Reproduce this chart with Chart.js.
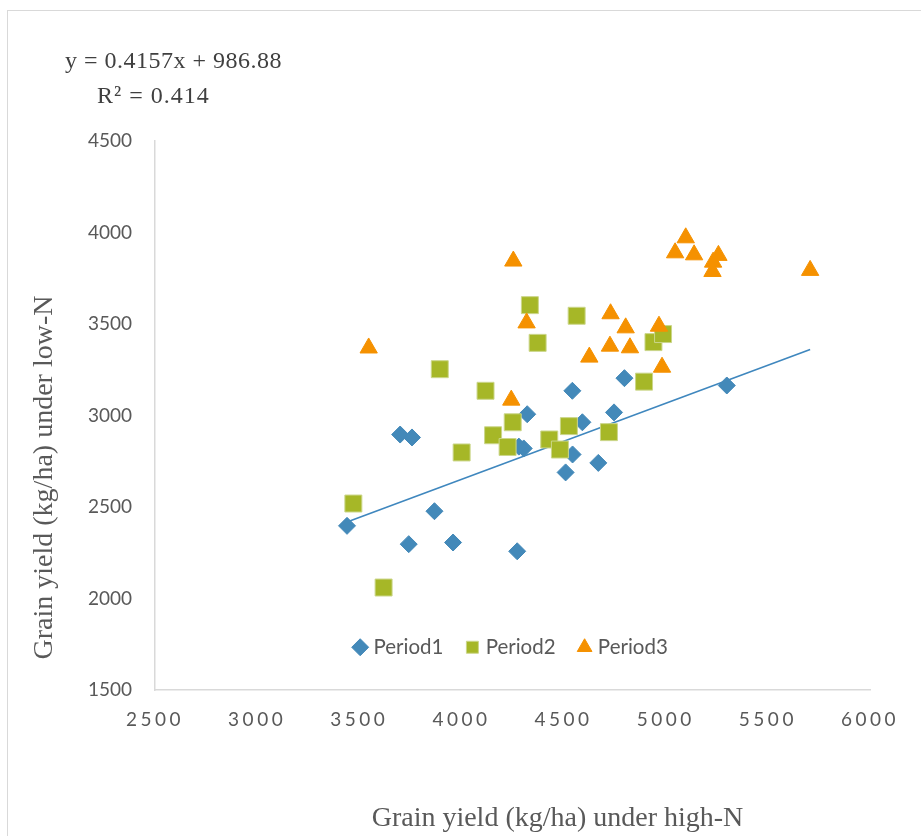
<!DOCTYPE html>
<html>
<head>
<meta charset="utf-8">
<script src="https://cdn.jsdelivr.net/npm/chart.js@4.4.0/dist/chart.umd.min.js"></script>
<style>
html, body { margin: 0; padding: 0; background: #ffffff; }
#wrap { width: 921px; height: 836px; position: relative; }
canvas { display: block; }
</style>
</head>
<body>
<div id="wrap"><canvas id="c" width="921" height="836"></canvas></div>
<script>
// ---- data ----
const seriesNames = ['Period1', 'Period2', 'Period3'];

const period1X = [3440, 3700, 3758, 3868, 3742, 3959, 4273, 4322, 4305, 4281, 4543, 4592, 4544, 4510, 4670, 4747, 4798, 5299];
const period1Y = [2397, 2896, 2880, 2477, 2297, 2306, 2258, 3007, 2820, 2830, 3135, 2963, 2787, 2689, 2741, 3017, 3204, 3164];

const period2X = [4335, 4564, 4373, 3894, 4118, 4251, 4526, 4155, 4001, 4226, 4430, 4482, 3471, 3619, 4722, 4894, 4940, 4987];
const period2Y = [3603, 3545, 3397, 3253, 3135, 2963, 2942, 2892, 2798, 2828, 2869, 2814, 2519, 2060, 2909, 3185, 3401, 3445];

const period3X = [4254, 4319, 3546, 4626, 4244, 5098, 5046, 5139, 5258, 5232, 5229, 5707, 4730, 4804, 4967, 4727, 4825, 4982];
const period3Y = [3844, 3506, 3369, 3319, 3084, 3971, 3889, 3878, 3875, 3838, 3787, 3793, 3556, 3479, 3488, 3379, 3370, 3264];

// linear trendline end points
const trendX = [3440, 5707];
const trendY = [2418, 3360];

const xTicks = [2500, 3000, 3500, 4000, 4500, 5000, 5500, 6000];
const yTicks = [1500, 2000, 2500, 3000, 3500, 4000, 4500];

const equationLines = ['y = 0.4157x + 986.88', 'R\u00B2 = 0.414'];
const xTitle = 'Grain yield (kg/ha) under high-N';
const yTitle = 'Grain yield (kg/ha) under low-N';

// ---- helpers ----
function pairs(xs, ys) { return xs.map((x, i) => ({ x: x, y: ys[i] })); }

const TICK_FONT = { family: 'Lato, "Open Sans", sans-serif', size: 19 };
const TITLE_FONT = { family: '"Liberation Serif", "DejaVu Serif", serif', size: 28 };
const GREY = '#595959';
const LEGEND_BOX_H = 60;

const layoutPlugin = {
  id: 'excelLayout',
  beforeDraw(chart) {
    const ctx = chart.ctx;
    ctx.save();
    ctx.fillStyle = '#ffffff';
    ctx.fillRect(0, 0, chart.width, chart.height);
    ctx.strokeStyle = '#d9d9d9';
    ctx.lineWidth = 1;
    ctx.strokeRect(7.5, 10.5, chart.width + 10, chart.height + 10);
    ctx.restore();
  },
  beforeLayout(chart) {
    const lg = chart.legend;
    if (lg && !lg._fixedFit) {
      const f = lg.fit;
      lg.fit = function () { f.call(this); if (this.isHorizontal()) this.height = LEGEND_BOX_H; };
      lg._fixedFit = true;
    }
  },
  afterLayout(chart) {
    const lg = chart.legend;
    const ca = chart.chartArea;
    if (lg) {
      const h = lg.height;
      lg.left = ca.left; lg.right = ca.right; lg.width = ca.right - ca.left;
      lg.top = 611; lg.bottom = lg.top + h;
    }
    const xs = chart.scales.x, ys = chart.scales.y;
    if (xs && !xs._wrapped) {
      const dl = xs.drawLabels;
      xs.drawLabels = function (a) { this.ctx.save(); this.ctx.letterSpacing = '3.5px'; dl.call(this, a); this.ctx.restore(); };
      const dt = xs.drawTitle;
      xs.drawTitle = function () { this.ctx.save(); this.ctx.translate(45, 0); dt.call(this); this.ctx.restore(); };
      xs._wrapped = true;
    }
    if (ys && !ys._wrapped) {
      const dt = ys.drawTitle;
      ys.drawTitle = function () { this.ctx.save(); this.ctx.translate(0, 62); dt.call(this); this.ctx.restore(); };
      ys._wrapped = true;
    }
  },
  afterDraw(chart) {
    const ctx = chart.ctx;
    ctx.save();
    ctx.font = '24px "Liberation Serif", serif';
    ctx.fillStyle = '#404040';
    ctx.textBaseline = 'middle';
    ctx.textAlign = 'left';
    ctx.letterSpacing = '0.5px';
    ctx.fillText(equationLines[0], 65, 62);
    ctx.letterSpacing = '1px';
    ctx.fillText(equationLines[1], 97, 97);
    ctx.restore();
  }
};

const ctx = document.getElementById('c').getContext('2d');
new Chart(ctx, {
  type: 'scatter',
  data: {
    datasets: [
      {
        label: seriesNames[0], data: pairs(period1X, period1Y), order: 3,
        pointStyle: 'rectRot', pointRadius: 8.5, pointHoverRadius: 8.5,
        backgroundColor: '#4389b9', borderColor: '#4389b9', borderWidth: 1
      },
      {
        label: seriesNames[1], data: pairs(period2X, period2Y), order: 2,
        pointStyle: 'rect', pointRadius: 12, pointHoverRadius: 12,
        backgroundColor: '#a6b727', borderColor: '#cbd68a', borderWidth: 1
      },
      {
        label: seriesNames[2], data: pairs(period3X, period3Y), order: 1,
        pointStyle: 'triangle', pointRadius: 10, pointHoverRadius: 10,
        backgroundColor: '#f59100', borderColor: '#f59100', borderWidth: 1
      },
      {
        type: 'line', label: 'Linear (all)', data: pairs(trendX, trendY), order: 4,
        showLine: true, fill: false, pointRadius: 0, pointHoverRadius: 0,
        borderColor: '#3f87be', borderWidth: 1.6, tension: 0
      }
    ]
  },
  options: {
    responsive: false,
    animation: false,
    devicePixelRatio: 1,
    layout: { padding: { left: 10, right: 51, top: 141 - LEGEND_BOX_H, bottom: 0 } },
    plugins: {
      tooltip: { enabled: false },
      legend: {
        display: true,
        position: 'top',
        align: 'center',
        labels: {
          usePointStyle: true,
          boxWidth: 6,
          boxHeight: 12,
          padding: 26,
          color: GREY,
          font: { family: 'Lato, "Open Sans", sans-serif', size: 20.5 },
          filter: (item) => item.datasetIndex < 3,
          sort: (a, b) => a.datasetIndex - b.datasetIndex
        }
      }
    },
    scales: {
      x: {
        type: 'linear',
        min: xTicks[0], max: xTicks[xTicks.length - 1],
        afterBuildTicks: (s) => { s.ticks = xTicks.map(v => ({ value: v })); },
        afterFit: (s) => { s.height = 146; },
        grid: { display: false, drawTicks: false },
        border: { display: true, color: '#d9d9d9', width: 1.5 },
        ticks: { color: GREY, font: TICK_FONT, padding: 18, maxRotation: 0, autoSkip: false,
                 callback: (v) => String(v) },
        title: { display: true, text: xTitle, color: GREY, font: TITLE_FONT, padding: { top: 0, bottom: 1 } }
      },
      y: {
        type: 'linear',
        min: yTicks[0], max: yTicks[yTicks.length - 1],
        afterBuildTicks: (s) => { s.ticks = yTicks.map(v => ({ value: v })); },
        afterFit: (s) => { s.width = 145; },
        grid: { display: false, drawTicks: false },
        border: { display: true, color: '#d9d9d9', width: 1.5 },
        ticks: { color: GREY, font: TICK_FONT, padding: 23, autoSkip: false,
                 callback: (v) => String(v) },
        title: { display: true, text: yTitle, color: GREY, font: TITLE_FONT, padding: { top: 18, bottom: 0 } }
      }
    }
  },
  plugins: [layoutPlugin]
});
</script>
</body>
</html>
